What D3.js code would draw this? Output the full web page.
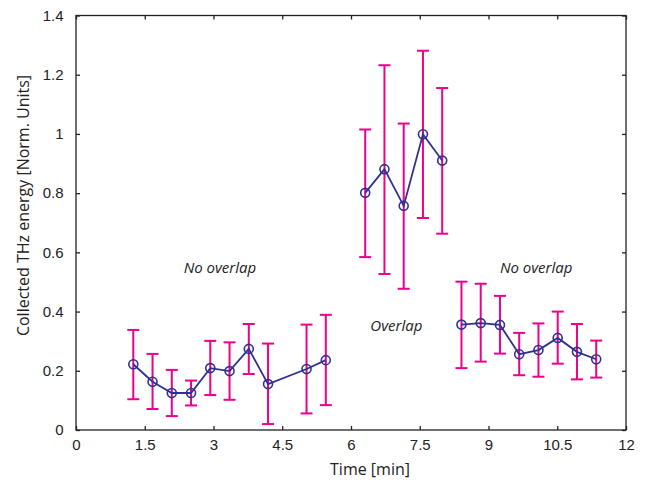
<!DOCTYPE html>
<html><head><meta charset="utf-8">
<script src="https://cdn.jsdelivr.net/npm/d3@7"></script>
<style>body{margin:0;background:#fff}</style>
</head><body><svg id="c" width="646" height="483"></svg>
<script>
// Data
const groupA_time = [1.25, 1.67, 2.09, 2.51, 2.93, 3.35, 3.77, 4.19, 5.03, 5.45];
const groupA_val  = [0.222, 0.163, 0.125, 0.125, 0.209, 0.199, 0.274, 0.155, 0.206, 0.236];
const groupA_hi   = [0.338, 0.257, 0.203, 0.167, 0.301, 0.296, 0.358, 0.292, 0.356, 0.389];
const groupA_lo   = [0.104, 0.071, 0.047, 0.083, 0.118, 0.102, 0.189, 0.020, 0.056, 0.084];

const groupB_time = [6.31, 6.73, 7.15, 7.57, 7.99];
const groupB_val  = [0.801, 0.881, 0.757, 0.999, 0.910];
const groupB_hi   = [1.015, 1.232, 1.035, 1.281, 1.155];
const groupB_lo   = [0.584, 0.527, 0.477, 0.716, 0.663];

const groupC_time = [8.41, 8.83, 9.25, 9.67, 10.09, 10.51, 10.93, 11.35];
const groupC_val  = [0.356, 0.361, 0.355, 0.256, 0.270, 0.311, 0.264, 0.239];
const groupC_hi   = [0.501, 0.494, 0.453, 0.328, 0.360, 0.400, 0.358, 0.302];
const groupC_lo   = [0.209, 0.231, 0.258, 0.185, 0.180, 0.224, 0.171, 0.177];

const xTicks = [0, 1.5, 3, 4.5, 6, 7.5, 9, 10.5, 12];
const yTicks = [0, 0.2, 0.4, 0.6, 0.8, 1, 1.2, 1.4];
const annotations = [
  {text: "No overlap", t: 3.14, v: 0.531},
  {text: "Overlap", t: 6.99, v: 0.334},
  {text: "No overlap", t: 10.04, v: 0.531}
];

const W = 646, H = 483;
const m = {l: 76, r: 20, t: 15.5, b: 53};
const svg = d3.select("#c");
const x = d3.scaleLinear().domain([0, 12]).range([m.l, W - m.r]);
const y = d3.scaleLinear().domain([0, 1.4]).range([H - m.b, m.t]);
const tickFont = "'Liberation Sans', Arial, sans-serif";
const labFont = "'Open Sans', 'Noto Sans', sans-serif";

// frame
svg.append("rect").attr("x", x(0)).attr("y", y(1.4)).attr("width", x(12) - x(0)).attr("height", y(0) - y(1.4))
  .attr("fill", "none").attr("stroke", "#222").attr("stroke-width", 1.3);

const fmt = d => (d === 0 ? "0" : String(d));
const xb = svg.append("g").attr("transform", `translate(0,${y(0)})`)
  .call(d3.axisBottom(x).tickValues(xTicks).tickSizeInner(-4).tickSizeOuter(0).tickPadding(9).tickFormat(fmt));
const xt = svg.append("g").attr("transform", `translate(0,${y(1.4)})`)
  .call(d3.axisTop(x).tickValues(xTicks).tickSizeInner(-4).tickSizeOuter(0).tickFormat(""));
const yl = svg.append("g").attr("transform", `translate(${x(0)},0)`)
  .call(d3.axisLeft(y).tickValues(yTicks).tickSizeInner(-4).tickSizeOuter(0).tickPadding(12.5).tickFormat(fmt));
const yr = svg.append("g").attr("transform", `translate(${x(12)},0)`)
  .call(d3.axisRight(y).tickValues(yTicks).tickSizeInner(-4).tickSizeOuter(0).tickFormat(""));
[xb, xt, yl, yr].forEach(g => {
  g.select(".domain").remove();
  g.selectAll(".tick line").attr("stroke", "#222").attr("stroke-width", 1.3);
  g.selectAll("text").attr("font-family", tickFont).attr("font-size", 15).attr("fill", "#222");
});

// axis titles
svg.append("text").attr("x", 370).attr("y", 475).attr("text-anchor", "middle")
  .attr("font-family", labFont).attr("font-size", 16).attr("fill", "#222").text("Time [min]");
svg.append("text").attr("transform", `translate(28.5,205.5) rotate(-90)`).attr("text-anchor", "middle")
  .attr("font-family", labFont).attr("font-size", 16).attr("fill", "#222").text("Collected THz energy [Norm. Units]");

const magenta = "#ec008c", navy = "#2e3192";
function drawGroup(t, v, hi, lo) {
  const d = t.map((tt, i) => ({t: tt, v: v[i], hi: hi[i], lo: lo[i]}));
  const g = svg.append("g");
  g.selectAll(".eb").data(d).join("line").attr("x1", a => x(a.t)).attr("x2", a => x(a.t))
    .attr("y1", a => y(a.hi)).attr("y2", a => y(a.lo)).attr("stroke", magenta).attr("stroke-width", 2);
  ["hi", "lo"].forEach(k => {
    g.selectAll(".cap" + k).data(d).join("line").attr("x1", a => x(a.t) - 6).attr("x2", a => x(a.t) + 6)
      .attr("y1", a => y(a[k])).attr("y2", a => y(a[k])).attr("stroke", magenta).attr("stroke-width", 2);
  });
  g.append("path").datum(d).attr("fill", "none").attr("stroke", navy).attr("stroke-width", 1.8)
    .attr("d", d3.line().x(a => x(a.t)).y(a => y(a.v)));
  g.selectAll("circle").data(d).join("circle").attr("cx", a => x(a.t)).attr("cy", a => y(a.v)).attr("r", 4.5)
    .attr("fill", "none").attr("stroke", navy).attr("stroke-width", 1.6);
}
drawGroup(groupA_time, groupA_val, groupA_hi, groupA_lo);
drawGroup(groupB_time, groupB_val, groupB_hi, groupB_lo);
drawGroup(groupC_time, groupC_val, groupC_hi, groupC_lo);

svg.selectAll(".ann").data(annotations).join("text").attr("x", a => x(a.t)).attr("y", a => y(a.v))
  .attr("text-anchor", "middle").attr("font-family", labFont).attr("font-style", "italic")
  .attr("font-size", 15).attr("fill", "#222").text(a => a.text);
</script></body></html>
